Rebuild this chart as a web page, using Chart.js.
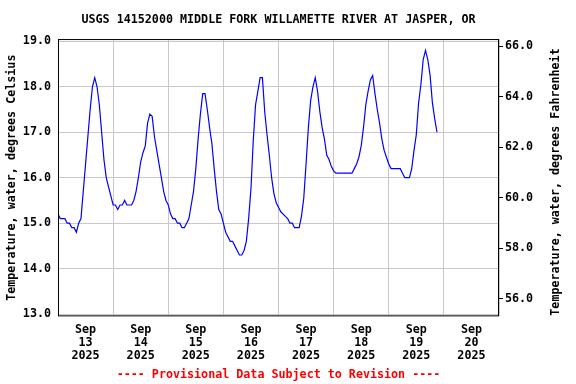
<!DOCTYPE html>
<html>
<head>
<meta charset="utf-8">
<title>USGS 14152000 Middle Fork Willamette River at Jasper, OR</title>
<script src="https://cdn.jsdelivr.net/npm/chart.js@4.4.1/dist/chart.umd.min.js"></script>
<style>
  html, body { margin: 0; padding: 0; background: #fff; }
  #wrap { width: 576px; height: 384px; }
</style>
</head>
<body>
<div id="wrap"><canvas id="chart" width="576" height="384"></canvas></div>
<script>
// Water temperature, deg C, one value per hour from Sep 13 2025 00:00
var SEP13 = [15.2, 15.1, 15.1, 15.1, 15.0, 15.0, 14.9, 14.9, 14.8, 15.0, 15.1, 15.7,
             16.3, 16.9, 17.5, 18.0, 18.2, 18.0, 17.6, 17.0, 16.4, 16.0, 15.8, 15.6];
var SEP14 = [15.4, 15.4, 15.3, 15.4, 15.4, 15.5, 15.4, 15.4, 15.4, 15.5, 15.7, 16.0,
             16.35, 16.55, 16.7, 17.2, 17.4, 17.35, 16.9, 16.6, 16.3, 16.0, 15.7, 15.5];
var SEP15 = [15.4, 15.2, 15.1, 15.1, 15.0, 15.0, 14.9, 14.9, 15.0, 15.1, 15.4, 15.7,
             16.2, 16.85, 17.4, 17.85, 17.85, 17.5, 17.1, 16.75, 16.2, 15.7, 15.3, 15.2];
var SEP16 = [15.0, 14.8, 14.7, 14.6, 14.6, 14.5, 14.4, 14.3, 14.3, 14.4, 14.6, 15.1,
             15.75, 16.8, 17.6, 17.9, 18.2, 18.2, 17.45, 16.95, 16.5, 16.0, 15.65, 15.45];
var SEP17 = [15.35, 15.25, 15.2, 15.15, 15.1, 15.0, 15.0, 14.9, 14.9, 14.9, 15.15, 15.55,
             16.3, 17.1, 17.7, 18.0, 18.2, 17.9, 17.45, 17.1, 16.85, 16.5, 16.4, 16.25];
var SEP18 = [16.15, 16.1, 16.1, 16.1, 16.1, 16.1, 16.1, 16.1, 16.1, 16.2, 16.3, 16.45,
             16.7, 17.1, 17.6, 17.9, 18.15, 18.25, 17.85, 17.5, 17.2, 16.85, 16.6, 16.45];
var SEP19 = [16.3, 16.2, 16.2, 16.2, 16.2, 16.2, 16.1, 16.0, 16.0, 16.0, 16.2, 16.6,
             16.95, 17.65, 18.05, 18.6, 18.8, 18.6, 18.25, 17.65, 17.3, 17.0];

var MONTH = 'Sep';
var YEAR = '2025';
var DAY_LABELS = ['13', '14', '15', '16', '17', '18', '19', '20'];
var C_TICKS = [13, 14, 15, 16, 17, 18, 19];
var F_TICKS = [56, 58, 60, 62, 64, 66];
var C_MIN = 12.95, C_MAX = 19.05;

var TITLE = 'USGS 14152000 MIDDLE FORK WILLAMETTE RIVER AT JASPER, OR';
var FOOTER = '---- Provisional Data Subject to Revision ----';
var LEFT_TITLE = 'Temperature, water, degrees Celsius';
var RIGHT_TITLE = 'Temperature, water, degrees Fahrenheit';

var TEMP_C = [].concat(SEP13, SEP14, SEP15, SEP16, SEP17, SEP18, SEP19);
var points = TEMP_C.map(function(v, i) { return { x: i, y: v }; });

var FONT = { family: "'DejaVu Sans Mono', monospace", size: 11.7, weight: 'bold' };
var XFONT = { family: "'DejaVu Sans Mono', monospace", size: 11.7, weight: 'bold', lineHeight: 1.13 };
var GRID = '#c8c8c8';

function cToF(c) { return c * 1.8 + 32; }

function fixedTicks(list) {
  return function(scale) {
    scale.ticks = list.map(function(v) { return { value: v }; });
  };
}

// box around the plot and the right-hand title (reads bottom to top)
var frame = {
  id: 'frame',
  afterDraw: function(chart) {
    var a = chart.chartArea, ctx = chart.ctx;
    ctx.save();
    ctx.strokeStyle = '#000';
    ctx.lineWidth = 1;
    ctx.strokeRect(a.left + 0.5, a.top + 0.5, a.right - a.left - 1, a.bottom - a.top - 1);
    ctx.translate(556, 182);
    ctx.rotate(-Math.PI / 2);
    ctx.fillStyle = '#000';
    ctx.font = 'bold ' + FONT.size + 'px ' + FONT.family;
    ctx.textAlign = 'center';
    ctx.textBaseline = 'middle';
    ctx.fillText(RIGHT_TITLE, 0, 0);
    ctx.restore();
  }
};

new Chart(document.getElementById('chart'), {
  type: 'line',
  data: {
    datasets: [{
      data: points,
      borderColor: '#0000ff',
      borderWidth: 1.2,
      pointRadius: 0,
      tension: 0,
      fill: false
    }]
  },
  options: {
    responsive: false,
    animation: false,
    devicePixelRatio: 1,
    layout: { padding: 0 },
    plugins: {
      legend: { display: false },
      tooltip: { enabled: false },
      title: {
        display: true, text: TITLE, color: '#000', font: FONT, fullSize: false,
        padding: { top: 13, bottom: 12 }
      },
      subtitle: {
        display: true, position: 'bottom', text: FOOTER, color: '#ff0000', font: FONT, fullSize: false,
        padding: { top: 0, bottom: 2 }
      }
    },
    scales: {
      x: {
        type: 'linear',
        min: 0,
        max: 192,
        ticks: {
          stepSize: 12,
          autoSkip: false,
          maxRotation: 0,
          padding: 7,
          color: '#000',
          font: XFONT,
          callback: function(v) {
            if (v % 24 !== 12) return '';
            return [MONTH, DAY_LABELS[(v - 12) / 24], YEAR];
          }
        },
        grid: {
          drawTicks: false,
          color: function(c) {
            return c.tick && c.tick.value % 24 === 0 ? GRID : 'rgba(0,0,0,0)';
          }
        },
        border: { display: false },
        afterFit: function(s) { s.height = 51.6; }
      },
      y: {
        position: 'left',
        min: C_MIN,
        max: C_MAX,
        afterBuildTicks: fixedTicks(C_TICKS),
        ticks: {
          padding: 7,
          color: '#000',
          font: FONT,
          callback: function(v) { return v.toFixed(1); }
        },
        grid: { color: GRID, drawTicks: false },
        border: { display: false },
        title: { display: true, text: LEFT_TITLE, color: '#000', font: FONT, padding: { top: 5, bottom: 0 } },
        afterFit: function(s) { s.width = 58; }
      },
      y2: {
        position: 'right',
        min: cToF(C_MIN),
        max: cToF(C_MAX),
        afterBuildTicks: fixedTicks(F_TICKS),
        ticks: {
          padding: 2,
          color: '#000',
          font: FONT,
          callback: function(v) { return v.toFixed(1); }
        },
        grid: { drawOnChartArea: false, color: '#000', tickLength: 4 },
        border: { display: false },
        afterFit: function(s) { s.width = 77; }
      }
    }
  },
  plugins: [frame]
});
</script>
</body>
</html>
